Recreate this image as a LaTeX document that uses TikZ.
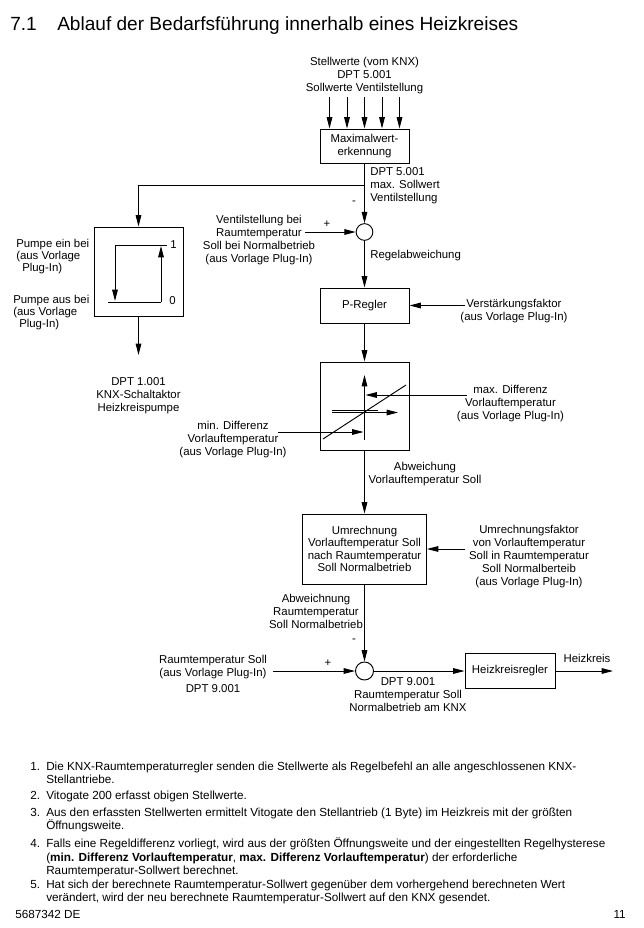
\documentclass[tikz,border=0pt]{standalone}
\usepackage{fontspec}
\setmainfont{Liberation Sans}
\usetikzlibrary{arrows.meta}
\newcommand\dfont{\fontsize{8.55pt}{9.75pt}\selectfont}
\newcommand\lfont{\fontsize{8.8pt}{10.2pt}\selectfont}
\newcommand\tfont{\fontsize{14.3pt}{17pt}\selectfont}
\newcommand\inum[1]{\makebox[12pt][l]{#1}}
\newcommand\iind{\hspace*{12pt}}
\begin{document}
\begin{tikzpicture}[x=0.75pt,y=-0.75pt,
  lbl/.style={font=\dfont,align=center,inner sep=0pt},
  box/.style={draw,line width=0.7pt,font=\dfont,align=center,inner sep=0pt},
  sumc/.style={draw,circle,line width=0.7pt,inner sep=0pt},
  arr/.style={-{Triangle[length=8.5pt,width=4.2pt]},line width=0.7pt},
  ln/.style={line width=0.7pt},
  litem/.style={font=\lfont,align=left,inner sep=0pt,anchor=north west}]
\fill[white] (0,0) rectangle (643,928);
\useasboundingbox (0,0) rectangle (643,928);

% title
\node[anchor=base west,inner sep=0pt,font=\tfont] (tnum) at (10,30) {7.1};
\node[anchor=base west,inner sep=0pt,font=\tfont] (title) at (57,30) {Ablauf der Bedarfsführung innerhalb eines Heizkreises};

% boxes
\node[box,minimum width=66.75pt,minimum height=25.5pt] (maxw) at (364.5,146) {Maximalwert-\\erkennung};
\node[box,minimum width=66.75pt,minimum height=26.25pt] (preg) at (364.5,305.5) {P-Regler};
\node[box,minimum width=66.75pt,minimum height=66pt] (hyst) at (364.5,406) {};
\node[box,minimum width=93pt,minimum height=52.5pt,font=\fontsize{8.55pt}{9.4pt}\selectfont] (umr) at (364.5,549) {Umrechnung\\Vorlauftemperatur Soll\\nach Raumtemperatur\\Soll Normalbetrieb};
\node[box,minimum width=67.5pt,minimum height=26.25pt] (heiz) at (510,671) {Heizkreisregler};
\node[box,minimum width=66.75pt,minimum height=66.75pt] (pump) at (138.5,271.5) {};
\node[sumc,minimum size=12.5pt] (s1) at (364.5,232) {};
\node[sumc,minimum size=13.5pt] (s2) at (364.5,671) {};

% input arrows to Maximalwerterkennung
\foreach \i/\x in {1/329.5,2/347,3/364.5,4/382,5/399.5}{
  \coordinate (in\i) at (\x,97);
  \draw[arr] (in\i) -- (in\i |- maxw.north);
}

% connectors
\coordinate (br) at (364.5,185);
\draw[arr] (br) -| (pump.north);
\draw[arr] (maxw.south) -- (s1.north);
\coordinate (vin) at (305,232);
\draw[arr] (vin) -- (s1.west);
\draw[arr] (s1.south) -- (preg.north);
\coordinate (vsf) at (465,305.5);
\draw[arr] (vsf) -- (preg.east);
\draw[arr] (preg.south) -- (hyst.north);
\draw[arr] (hyst.south) -- (umr.north);
\coordinate (ufin) at (465,549);
\draw[arr] (ufin) -- (umr.east);
\draw[arr] (umr.south) -- (s2.north);
\coordinate (rtin) at (273,671);
\draw[arr] (rtin) -- (s2.west);
\draw[arr] (s2.east) -- (heiz.west);
\coordinate (hout) at (613,671);
\draw[arr] (heiz.east) -- (hout);
\coordinate (pout) at (138.5,355);
\draw[arr] (pump.south) -- (pout);

% hysteresis box internals
\draw[arr] (364.5,440) -- (364.5,375);
\draw[ln] (323,439) -- (406,385);
\draw[ln] (332,410) -- (378,410);
\draw[arr] (332,412.5) -- (398,412.5);
\coordinate (maxin) at (466.5,395);
\draw[arr] (maxin) -- (365.5,395);
\coordinate (minin) at (278,432);
\draw[arr] (minin) -- (363.5,432);

% pump box internals
\draw[ln] (115,245) -- (167,245);
\draw[arr] (115,245) -- (115,301);
\draw[ln] (108,302) -- (161,302);
\draw[arr] (161,302) -- (161,246);
\node[lbl,anchor=west] (one) at (170,245) {1};
\node[lbl,anchor=west] (zero) at (169,301) {0};

% labels
\node[lbl] (stell) at (364.5,76) {Stellwerte (vom KNX)\\DPT 5.001\\Sollwerte Ventilstellung};
\node[lbl,align=left,anchor=west] (dpt5) at (370,186) {DPT 5.001\\max. Sollwert\\Ventilstellung};
\node[lbl] (m1) at (354,203) {-};
\node[lbl] (p1) at (327,224) {+};
\node[lbl] (vlab) at (259,240) {Ventilstellung bei\\Raumtemperatur\\Soll bei Normalbetrieb\\(aus Vorlage Plug-In)};
\node[lbl,anchor=west] (regab) at (370,256) {Regelabweichung};
\node[lbl] (vslab) at (514,311) {Verstärkungsfaktor\\(aus Vorlage Plug-In)};
\node[lbl] (maxlab) at (510.5,404) {max. Differenz\\Vorlauftemperatur\\(aus Vorlage Plug-In)};
\node[lbl] (minlab) at (233,440) {min. Differenz\\Vorlauftemperatur\\(aus Vorlage Plug-In)};
\node[lbl] (abvl) at (425,474) {Abweichung\\Vorlauftemperatur Soll};
\node[lbl] (uflab) at (529,557) {Umrechnungsfaktor\\von Vorlauftemperatur\\Soll in Raumtemperatur\\Soll Normalberteib\\(aus Vorlage Plug-In)};
\node[lbl] (abrt) at (316,611) {Abweichnung\\Raumtemperatur\\Soll Normalbetrieb};
\node[lbl] (m2) at (354,641) {-};
\node[lbl] (p2) at (328,663) {+};
\node[lbl] (rtlab) at (213,674) {Raumtemperatur Soll\\(aus Vorlage Plug-In)\\[2pt]DPT 9.001};
\node[lbl] (dpt9) at (408,695) {DPT 9.001\\Raumtemperatur Soll\\Normalbetrieb am KNX};
\node[lbl] (hk) at (587,658) {Heizkreis};
\node[lbl,align=left,anchor=west,font=\fontsize{8.55pt}{9pt}\selectfont] (pein) at (16,257) {Pumpe ein bei\\(aus Vorlage\\\hspace*{4.5pt}Plug-In)};
\node[lbl,align=left,anchor=west,font=\fontsize{8.55pt}{9pt}\selectfont] (paus) at (13,313) {Pumpe aus bei\\(aus Vorlage\\\hspace*{4.5pt}Plug-In)};
\node[lbl] (dpt1) at (138.5,396) {DPT 1.001\\KNX-Schaltaktor\\Heizkreispumpe};

% list
\node[litem] (t1) at (30,761.5) {\inum{1.}Die KNX-Raumtemperaturregler senden die Stellwerte als Regelbefehl an alle angeschlossenen KNX-\\\iind Stellantriebe.};
\node[litem] (t2) at (30,790.5) {\inum{2.}Vitogate 200 erfasst obigen Stellwerte.};
\node[litem] (t3) at (30,807.5) {\inum{3.}Aus den erfassten Stellwerten ermittelt Vitogate den Stellantrieb (1 Byte) im Heizkreis mit der größten\\\iind Öffnungsweite.};
\node[litem] (t4) at (30,837.5) {\inum{4.}Falls eine Regeldifferenz vorliegt, wird aus der größten Öffnungsweite und der eingestellten Regelhysterese\\\iind(\textbf{min. Differenz Vorlauftemperatur}, \textbf{max. Differenz Vorlauftemperatur}) der erforderliche\\\iind Raumtemperatur-Sollwert berechnet.};
\node[litem] (t5) at (30,879.5) {\inum{5.}Hat sich der berechnete Raumtemperatur-Sollwert gegenüber dem vorhergehend berechneten Wert\\\iind verändert, wird der neu berechnete Raumtemperatur-Sollwert auf den KNX gesendet.};

% footer
\node[anchor=base west,inner sep=0pt,font=\lfont] (doc) at (15,918) {5687342 DE};
\node[anchor=base east,inner sep=0pt,font=\lfont] (page) at (626,918) {11};
\end{tikzpicture}
\end{document}
